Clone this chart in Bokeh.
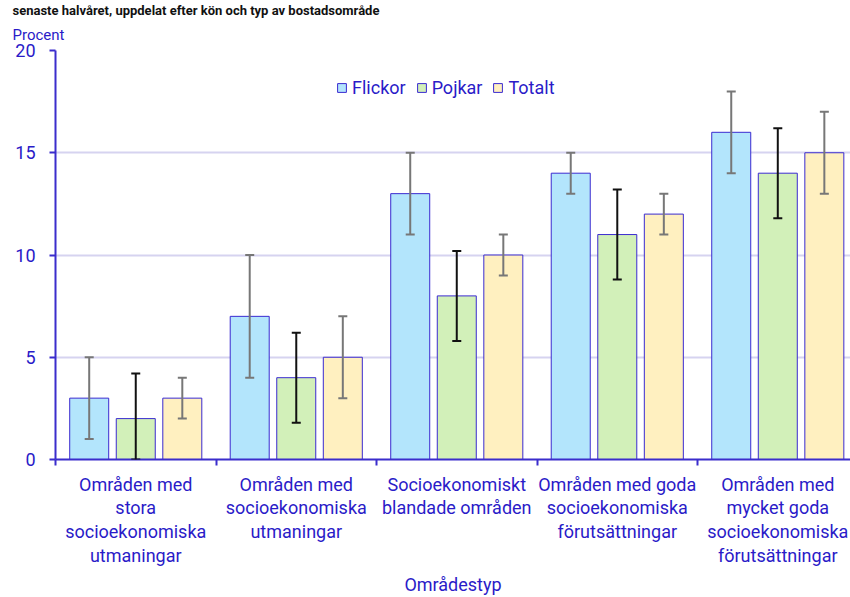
from bokeh.plotting import figure
from bokeh.models import (Range1d, FixedTicker, ColumnDataSource, Whisker, TeeHead,
                          Title, Legend, LegendItem)
from bokeh.embed import file_html
from bokeh.resources import INLINE

categories = [
    "Områden med\nstora\nsocioekonomiska\nutmaningar",
    "Områden med\nsocioekonomiska\nutmaningar",
    "Socioekonomiskt\nblandade områden",
    "Områden med goda\nsocioekonomiska\nförutsättningar",
    "Områden med\nmycket goda\nsocioekonomiska\nförutsättningar",
]
series_names = ["Flickor", "Pojkar", "Totalt"]
flickor = [3, 7, 13, 14, 16]
pojkar = [2, 4, 8, 11, 14]
totalt = [3, 5, 10, 12, 15]
flickor_low = [1, 4, 11, 13, 14]
flickor_high = [5, 10, 15, 15, 18]
pojkar_low = [0, 1.8, 5.8, 8.8, 11.8]
pojkar_high = [4.2, 6.2, 10.2, 13.2, 16.2]
totalt_low = [2, 3, 9, 11, 13]
totalt_high = [4, 7, 11, 13, 17]
y_ticks = [0, 5, 10, 15, 20]

title_text = "senaste halvåret, uppdelat efter kön och typ av bostadsområde"
y_title = "Procent"
x_title = "Områdestyp"

FONT = "Roboto"
TXT = "#2a1bc8"
AX = "#3b2dcc"
EDGE = "#3a2ad0"
fills = ["#b3e5fc", "#d2f0b9", "#fff0c0"]
err_colors = ["#777777", "#111111", "#777777"]

n = len(categories)
p = figure(width=850, height=597, output_backend="svg", toolbar_location=None,
           x_range=Range1d(0, 4.953), y_range=Range1d(0, 20),
           min_border_left=55, min_border_right=0, min_border_top=46,
           min_border_bottom=138, outline_line_color=None,
           background_fill_color="white", border_fill_color="white")

values = [flickor, pojkar, totalt]
lows = [flickor_low, pojkar_low, totalt_low]
highs = [flickor_high, pojkar_high, totalt_high]
offsets = [-0.29, 0.0, 0.29]
items = []
for k in range(3):
    xs = [i + 0.5 + offsets[k] for i in range(n)]
    src = ColumnDataSource(dict(x=xs, top=values[k], lo=lows[k], hi=highs[k]))
    r = p.vbar(x="x", top="top", bottom=0, width=0.243, source=src,
               fill_color=fills[k], line_color=EDGE, line_width=1)
    items.append(LegendItem(label=series_names[k], renderers=[r]))
    w = Whisker(base="x", lower="lo", upper="hi", source=src, level="overlay",
                line_color=err_colors[k], line_width=2,
                lower_head=TeeHead(size=9, line_color=err_colors[k], line_width=2),
                upper_head=TeeHead(size=9, line_color=err_colors[k], line_width=2))
    p.add_layout(w)

legend = Legend(items=items, orientation="horizontal", location=(281, 361),
                glyph_width=11, glyph_height=11, label_standoff=5, spacing=10,
                padding=0, margin=0, border_line_color=None,
                background_fill_alpha=0,
                label_text_font=FONT, label_text_font_size="18px",
                label_text_color=TXT)
p.add_layout(legend, "center")

# y axis
p.yaxis.ticker = FixedTicker(ticks=y_ticks, minor_ticks=[])
p.yaxis.axis_line_color = AX
p.yaxis.axis_line_width = 2
p.yaxis.major_tick_line_color = AX
p.yaxis.major_tick_line_width = 2
p.yaxis.major_tick_out = 6
p.yaxis.major_tick_in = 0
p.yaxis.minor_tick_line_color = None
p.yaxis.major_label_text_font = FONT
p.yaxis.major_label_text_font_size = "18px"
p.yaxis.major_label_text_color = TXT
p.yaxis.major_label_standoff = 14

# x axis
p.xaxis.ticker = FixedTicker(ticks=[i + 0.5 for i in range(n)],
                             minor_ticks=[i for i in range(n + 1)])
p.xaxis.major_label_overrides = {i + 0.5: categories[i] for i in range(n)}
p.xaxis.axis_line_color = AX
p.xaxis.axis_line_width = 2
p.xaxis.major_tick_line_color = None
p.xaxis.major_tick_out = 0
p.xaxis.major_tick_in = 0
p.xaxis.minor_tick_line_color = AX
p.xaxis.minor_tick_line_width = 2
p.xaxis.minor_tick_out = 6
p.xaxis.minor_tick_in = 0
p.xaxis.major_label_text_font = FONT
p.xaxis.major_label_text_font_size = "18px"
p.xaxis.major_label_text_color = TXT
p.xaxis.major_label_text_line_height = 1.13
p.xaxis.major_label_standoff = 8
p.xaxis.axis_label = x_title
p.xaxis.axis_label_text_font = FONT
p.xaxis.axis_label_text_font_size = "18px"
p.xaxis.axis_label_text_font_style = "normal"
p.xaxis.axis_label_text_color = TXT
p.xaxis.axis_label_standoff = 5

p.xgrid.grid_line_color = None
p.ygrid.ticker = FixedTicker(ticks=y_ticks)
p.ygrid.grid_line_color = "#d6d3f0"
p.ygrid.grid_line_width = 2

# main title on top, "Procent" just above the plot area
p.title.text = title_text
p.title.align = "left"
p.title.offset = -43
p.title.text_font = FONT
p.title.text_font_size = "13px"
p.title.text_font_style = "bold"
p.title.text_color = "#111111"
p.title.standoff = 0
p.add_layout(Title(text=y_title, align="left", offset=-43, standoff=13,
                   text_font=FONT, text_font_size="15px",
                   text_font_style="normal", text_color=TXT), "above")

open("out.html", "w").write(file_html(p, INLINE))
